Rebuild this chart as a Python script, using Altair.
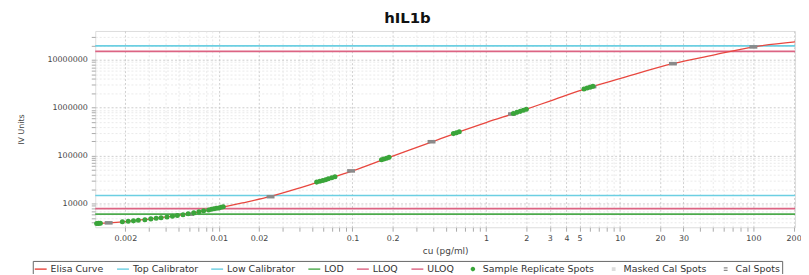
import altair as alt
import pandas as pd

title_text = "hIL1b"
x_title = "cu (pg/ml)"
y_title = "IV Units"

# Fitted Elisa curve
curve_x = [0.00119, 0.002, 0.003, 0.005, 0.007, 0.01, 0.015, 0.024, 0.04, 0.062, 0.1, 0.18,
           0.385, 0.6, 1, 1.8, 3, 5.87, 10, 25.4, 50, 100, 205]
curve_y = [3800, 4200, 4750, 5650, 6600, 8100, 10300, 13900, 21000, 31000, 48000, 88000,
           190000, 300000, 490000, 840000, 1380000, 2630000, 4050000, 8400000, 12500000,
           18600000, 23600000]

# Sample replicate spots
sample_x = [0.00122, 0.00126, 0.0013,
            0.0019, 0.0021, 0.0023, 0.0025, 0.0028, 0.0031, 0.0034, 0.0037, 0.0041, 0.0045,
            0.0049, 0.0054, 0.0059, 0.0065, 0.0071, 0.0077,
            0.0084, 0.0088, 0.0092, 0.0096, 0.01, 0.0104, 0.0108,
            0.054, 0.057, 0.06, 0.063, 0.066, 0.07, 0.074,
            0.165, 0.172, 0.18, 0.188,
            0.57, 0.6, 0.63,
            1.6, 1.7, 1.8, 1.9, 2.0,
            5.4, 5.7, 6.0, 6.3]
sample_y = [3830, 3850, 3870,
            4150, 4250, 4350, 4460, 4600, 4780, 4920, 5060, 5240, 5420,
            5600, 5850, 6100, 6380, 6700, 7050,
            7350, 7600, 7800, 8000, 8100, 8350, 8550,
            28000, 29300, 30300, 31500, 32800, 34500, 36300,
            82000, 85000, 88500, 92000,
            288000, 300000, 315000,
            755000, 800000, 840000, 885000, 930000,
            2460000, 2570000, 2680000, 2790000]

# Calibrator spots
cal_x = [0.0015, 0.0061, 0.0244, 0.0977, 0.3906, 1.5625, 6.25, 25, 100]
cal_y = [3950, 6000, 13900, 48000, 195000, 740000, 2760000, 8300000, 18600000]

# Horizontal reference lines
hline_names = ["Top Calibrator", "ULOQ", "Low Calibrator", "LLOQ", "LOD"]
hline_values = [19500000, 15000000, 14700, 7800, 6000]

# Legend
legend_names = ["Elisa Curve", "Top Calibrator", "Low Calibrator", "LOD", "LLOQ", "ULOQ",
                "Sample Replicate Spots", "Masked Cal Spots", "Cal Spots"]
legend_colors = ["#e8473f", "#6ccfe2", "#6ccfe2", "#4caa4c", "#dc6483", "#dc6483",
                 "#3aa53a", "#dddddd", "#8a8a8a"]
line_sym = "M-1,-0.12L1,-0.12L1,0.12L-1,0.12Z"
legend_shapes = [line_sym] * 6 + [
    "M-0.38,0A0.38,0.38 0 1,0 0.38,0A0.38,0.38 0 1,0 -0.38,0Z",
    "M-0.32,-0.32L0.32,-0.32L0.32,0.32L-0.32,0.32Z",
    "M-0.32,-0.32L0.32,-0.32L0.32,-0.1L-0.32,-0.1Z M-0.32,0.1L0.32,0.1L0.32,0.32L-0.32,0.32Z",
]
color_of = dict(zip(legend_names, legend_colors))

# Axis ticks
x_tick_values = [0.002, 0.003, 0.004, 0.005, 0.006, 0.007, 0.008, 0.009,
                 0.01, 0.02, 0.03, 0.04, 0.05, 0.06, 0.07, 0.08, 0.09,
                 0.1, 0.2, 0.3, 0.4, 0.5, 0.6, 0.7, 0.8, 0.9,
                 1, 2, 3, 4, 5, 6, 7, 8, 9,
                 10, 20, 30, 40, 50, 60, 70, 80, 90, 100, 200]
x_label_values = [0.002, 0.01, 0.02, 0.1, 0.2, 1, 2, 3, 4, 5, 10, 20, 30, 100, 200]
y_tick_values = [4000, 5000, 6000, 7000, 8000, 9000,
                 10000, 20000, 30000, 40000, 50000, 60000, 70000, 80000, 90000,
                 100000, 200000, 300000, 400000, 500000, 600000, 700000, 800000, 900000,
                 1000000, 2000000, 3000000, 4000000, 5000000, 6000000, 7000000, 8000000, 9000000,
                 10000000, 20000000, 30000000]
y_label_values = [10000, 100000, 1000000, 10000000]

x_domain = [0.00119, 205]
y_domain = [3200, 40000000]

FONT = "DejaVu Sans"


def arr(vals):
    return "[" + ",".join(repr(v) for v in vals) + "]"


x_lab_test = f"indexof({arr(x_label_values)}, datum.value) >= 0"
y_lab_test = f"indexof({arr(y_label_values)}, datum.value) >= 0"

x_scale = alt.Scale(type="log", domain=x_domain, nice=False)
y_scale = alt.Scale(type="log", domain=y_domain, nice=False)

x_axis = alt.Axis(
    values=x_tick_values, format="~g", labelExpr=f"{x_lab_test} ? datum.label : ''",
    labelOverlap=False, labelFont=FONT, labelFontSize=8, labelColor="#444",
    tickSize=4, tickColor="#aaa", labelPadding=3, domain=False,
    gridColor={"condition": {"test": x_lab_test, "value": "#c2c2c2"}, "value": "#e4e4e4"},
    gridDash=[2, 2], gridWidth=0.8,
    title=x_title, titleFont=FONT, titleFontSize=9, titleFontWeight="normal",
    titleColor="#444", titlePadding=4,
)
y_axis = alt.Axis(
    values=y_tick_values, format="d", labelExpr=f"{y_lab_test} ? datum.label : ''",
    labelOverlap=False, labelFont=FONT, labelFontSize=8, labelColor="#444",
    tickSize=4, tickColor="#aaa", labelPadding=4, domain=False,
    gridColor={"condition": {"test": y_lab_test, "value": "#c2c2c2"}, "value": "#e4e4e4"},
    gridDash=[2, 2], gridWidth=0.8,
    title=y_title, titleFont=FONT, titleFontSize=8, titleFontWeight="normal",
    titleColor="#444", titleX=-74, titleY=99, titleAngle=-90, titleAlign="center",
    titleBaseline="middle",
)

X = alt.X("x:Q", scale=x_scale, axis=x_axis)
Y = alt.Y("y:Q", scale=y_scale, axis=y_axis)

curve_df = pd.DataFrame({"x": curve_x, "y": curve_y})
sample_df = pd.DataFrame({"x": sample_x, "y": sample_y})
cal_df = pd.DataFrame({"x": cal_x, "y": cal_y})
hline_df = pd.DataFrame({"y": hline_values, "series": hline_names})
legend_df = pd.DataFrame({"series": legend_names})


def rule_layer(name):
    return alt.Chart(hline_df).transform_filter(
        alt.datum.series == name
    ).mark_rule(strokeWidth=1.7, color=color_of[name]).encode(y=Y)


rule_layers = [rule_layer(n) for n in hline_names]

curve = alt.Chart(curve_df).mark_line(
    strokeWidth=1.3, interpolate="monotone", color=color_of["Elisa Curve"]
).encode(x=X, y=Y)

cal = alt.Chart(cal_df).mark_point(
    filled=True, opacity=1, size=64, shape="M-1,-0.45L1,-0.45L1,0.45L-1,0.45Z",
    color=color_of["Cal Spots"],
).encode(x=X, y=Y)

samples = alt.Chart(sample_df).mark_circle(
    size=26, opacity=1, color=color_of["Sample Replicate Spots"]
).encode(x=X, y=Y)

leg = alt.Legend(
    title=None, orient="none", legendX=-63, legendY=232, direction="horizontal",
    columns=9, columnPadding=13, symbolSize=144, symbolStrokeWidth=0, symbolOpacity=1,
    labelFont=FONT, labelFontSize=9.5, labelColor="#333", labelOffset=4,
    padding=2, strokeColor="#666", rowPadding=0,
)

legend_layer = alt.Chart(legend_df).mark_point(filled=True, size=0).encode(
    x=alt.value(0), y=alt.value(0),
    color=alt.Color("series:N", scale=alt.Scale(domain=legend_names, range=legend_colors),
                    legend=leg),
    shape=alt.Shape("series:N", scale=alt.Scale(domain=legend_names, range=legend_shapes),
                    legend=leg),
)

chart = alt.layer(*rule_layers, curve, cal, samples, legend_layer).properties(
    width=706, height=198,
    padding={"left": 88, "top": 22, "right": 6, "bottom": 46},
    autosize=alt.AutoSizeParams(type="none"),
    title=alt.Title(title_text, font=FONT, fontSize=15, fontWeight="bold", color="#111",
                    anchor="middle", dx=-38, offset=5),
).configure_view(stroke="#c0c0c0").configure(background="white")

chart.save("out.html", embed_options={"renderer": "svg", "actions": False})
